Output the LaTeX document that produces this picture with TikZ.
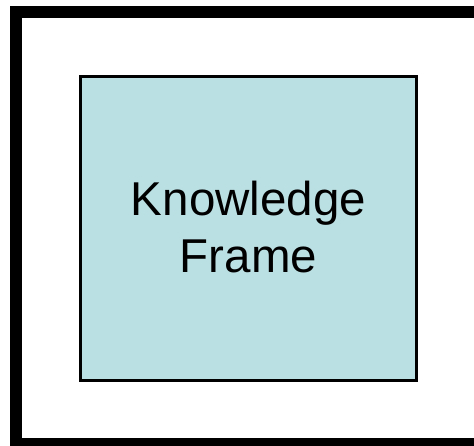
\documentclass[tikz,border=0pt]{standalone}
\usepackage{fontspec}
\setmainfont{Liberation Sans}
\definecolor{boxfill}{HTML}{BBE0E3}
\begin{document}
\begin{tikzpicture}[x=1pt,y=-1pt,
  outerframe/.style={line width=12pt,draw=black},
  kbox/.style={line width=3pt,draw=black,fill=boxfill},
  ktext/.style={font=\fontsize{47.5}{57}\selectfont,align=center,inner sep=0pt}]
\useasboundingbox (0,0) rectangle (474,445);
\begin{scope}
\clip (0,0) rectangle (474,445);
\draw[outerframe] (16,12) rectangle (484,444);
\end{scope}
\draw[kbox] (80.5,76.5) rectangle (416.5,380.5);
\node[ktext] (kf) at (248.5,227.5) {Knowledge\\Frame};
\end{tikzpicture}
\end{document}
